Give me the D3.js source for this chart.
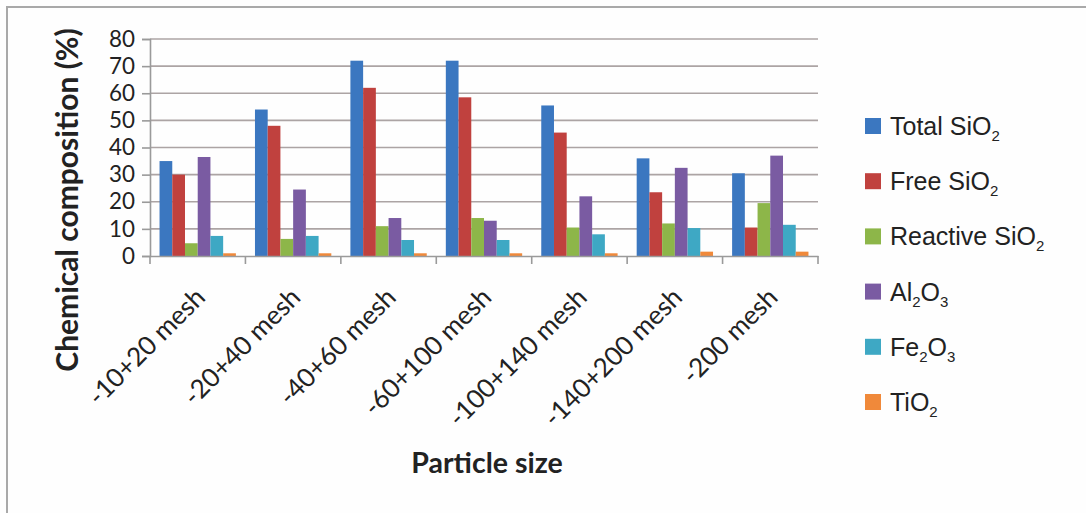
<!DOCTYPE html>
<html>
<head>
<meta charset="utf-8">
<script src="https://cdn.jsdelivr.net/npm/d3@7"></script>
<style>
  html, body { margin: 0; padding: 0; background: #fefefe; }
  svg { display: block; }
</style>
</head>
<body>
<svg id="chart" width="1086" height="513"></svg>
<script>
// Particle-size fractions on the x axis
const categories = ["-10+20 mesh", "-20+40 mesh", "-40+60 mesh", "-60+100 mesh", "-100+140 mesh", "-140+200 mesh", "-200 mesh"];

// Chemical composition (%) of each fraction
const totalSiO2    = [35.0, 54.0, 72.0, 72.0, 55.5, 36.0, 30.5];
const freeSiO2     = [30.0, 48.0, 62.0, 58.5, 45.5, 23.5, 10.5];
const reactiveSiO2 = [4.7, 6.3, 11.0, 14.0, 10.5, 12.0, 19.5];
const al2o3        = [36.5, 24.5, 14.0, 13.0, 22.0, 32.5, 37.0];
const fe2o3        = [7.4, 7.4, 5.9, 5.9, 8.0, 10.3, 11.5];
const tio2         = [1.0, 1.0, 1.0, 1.0, 1.0, 1.6, 1.6];

// Series names split into [text, subscript] pieces for chemical formulas
const seriesLabels = [
  [["Total SiO", false], ["2", true]],
  [["Free SiO", false], ["2", true]],
  [["Reactive SiO", false], ["2", true]],
  [["Al", false], ["2", true], ["O", false], ["3", true]],
  [["Fe", false], ["2", true], ["O", false], ["3", true]],
  [["TiO", false], ["2", true]]
];
const seriesValues = [totalSiO2, freeSiO2, reactiveSiO2, al2o3, fe2o3, tio2];
const seriesColors = ["#3b77c0", "#c0413e", "#8db649", "#7a5ba2", "#3ea8c4", "#f0893a"];

const yTicks = [0, 10, 20, 30, 40, 50, 60, 70, 80];
const yTitle = "Chemical composition (%)";
const xTitle = "Particle size";

const svg = d3.select("#chart");
const W = 1086, H = 513;
const sans = "Lato, 'Open Sans', sans-serif";

// chart frame
svg.append("rect").attr("x", 0).attr("y", 0).attr("width", W).attr("height", H).attr("fill", "#fefefe");
svg.append("path")
  .attr("d", `M7,${H + 2} V7 H${W + 2}`)
  .attr("fill", "none").attr("stroke", "#a9a9a9").attr("stroke-width", 2);

const plot = { left: 150, right: 818, top: 39, bottom: 256 };

const x = d3.scaleBand().domain(categories).range([plot.left, plot.right]).paddingInner(0).paddingOuter(0);
const seriesIdx = d3.range(seriesValues.length);
const xs = d3.scaleBand().domain(seriesIdx).range([0, x.bandwidth()]).paddingInner(0).paddingOuter(0.75);
const y = d3.scaleLinear().domain([0, 80]).range([plot.bottom, plot.top]);

// horizontal gridlines
svg.append("g").selectAll("line").data(yTicks.filter(d => d > 0)).join("line")
  .attr("x1", plot.left).attr("x2", plot.right)
  .attr("y1", d => y(d)).attr("y2", d => y(d))
  .attr("stroke", "#aca4a4").attr("stroke-width", 1.6);

// y axis
const yAxis = svg.append("g").attr("transform", `translate(${plot.left},0)`)
  .call(d3.axisLeft(y).tickValues(yTicks).tickSize(8).tickPadding(7).tickFormat(d3.format("d")));
yAxis.select(".domain").attr("stroke", "#9a9a9a").attr("stroke-width", 1.6);
yAxis.selectAll(".tick line").attr("stroke", "#9a9a9a").attr("stroke-width", 1.6);
yAxis.selectAll(".tick text")
  .attr("font-family", sans).attr("font-size", 22.4)
  .attr("fill", "#222");

// bars
const groups = svg.append("g").selectAll("g").data(categories).join("g")
  .attr("transform", d => `translate(${x(d)},0)`);
groups.selectAll("rect")
  .data((c, ci) => seriesValues.map((vals, si) => ({ si, v: vals[ci] })))
  .join("rect")
  .attr("x", d => xs(d.si))
  .attr("width", xs.bandwidth())
  .attr("y", d => y(d.v))
  .attr("height", d => y(0) - y(d.v))
  .attr("fill", d => seriesColors[d.si]);

// x axis
const xAxis = svg.append("g").attr("transform", `translate(0,${plot.bottom})`)
  .call(d3.axisBottom(x).tickSize(0).tickFormat(""));
xAxis.select(".domain").attr("stroke", "#9a9a9a").attr("stroke-width", 1.6);
// tick marks sit at the category boundaries
svg.append("g").selectAll("line")
  .data(categories.map(c => x(c)).concat([plot.right]))
  .join("line")
  .attr("x1", d => d).attr("x2", d => d)
  .attr("y1", plot.bottom).attr("y2", plot.bottom + 8)
  .attr("stroke", "#9a9a9a").attr("stroke-width", 1.6);

// rotated category labels
svg.append("g").selectAll("text").data(categories).join("text")
  .attr("transform", d => `translate(${x(d) + x.bandwidth() / 2 + 9},${plot.bottom + 43}) rotate(-45)`)
  .attr("text-anchor", "end")
  .attr("font-family", sans).attr("font-size", 26)
  .attr("fill", "#222")
  .text(d => d);

// axis titles
svg.append("text")
  .attr("transform", `translate(78,200) rotate(-90)`)
  .attr("text-anchor", "middle")
  .attr("font-family", sans).attr("font-weight", "bold").attr("font-size", 30)
  .attr("fill", "#222")
  .text(yTitle);

svg.append("text")
  .attr("x", 487).attr("y", 473)
  .attr("text-anchor", "middle")
  .attr("font-family", sans).attr("font-weight", "bold").attr("font-size", 28.5)
  .attr("fill", "#222")
  .text(xTitle);

// legend
const legend = svg.append("g").attr("transform", "translate(865,126)");
const items = legend.selectAll("g").data(seriesLabels).join("g")
  .attr("transform", (d, i) => `translate(0,${i * 55.2})`);
items.append("rect")
  .attr("x", 0).attr("y", -8).attr("width", 16).attr("height", 16)
  .attr("fill", (d, i) => seriesColors[i]);
const lt = items.append("text")
  .attr("x", 25).attr("y", 9)
  .attr("font-family", "'Liberation Sans', Arial, sans-serif").attr("font-size", 25)
  .attr("fill", "#222");
lt.each(function (parts) {
  const t = d3.select(this);
  let shifted = false;
  parts.forEach(([s, sub]) => {
    const ts = t.append("tspan").text(s);
    if (sub) {
      ts.attr("font-size", 15).attr("dy", shifted ? 0 : 6);
      shifted = true;
    } else {
      ts.attr("font-size", 25).attr("dy", shifted ? -6 : 0);
      shifted = false;
    }
  });
});
</script>
</body>
</html>
